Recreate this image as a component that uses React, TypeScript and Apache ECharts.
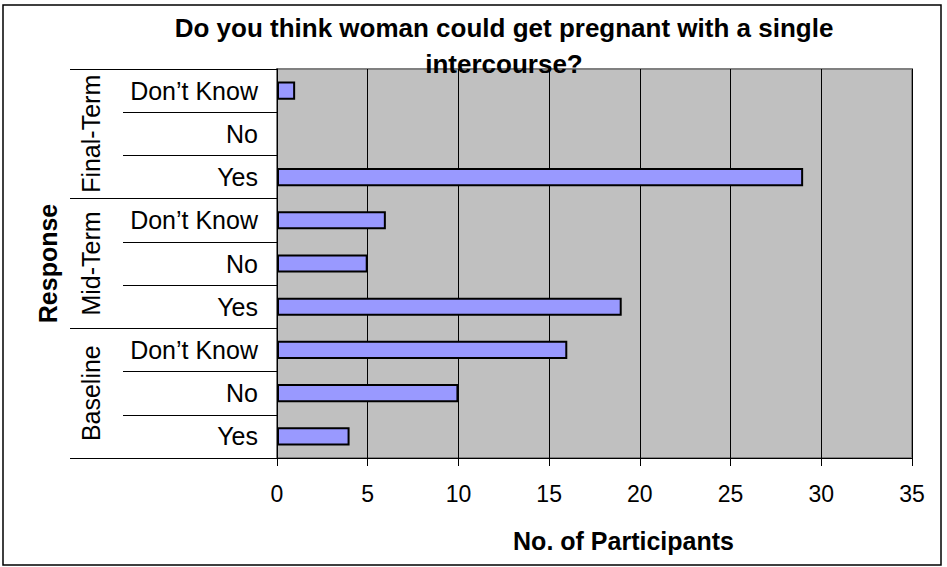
import React, { useEffect, useRef } from "react";
import * as echarts from "echarts";

const titleText = "Do you think woman could get pregnant with a single\nintercourse?";
const groups = ["Baseline", "Mid-Term", "Final-Term"];
const responses = ["Yes", "No", "Don’t Know"];
const baselineValues = [4, 10, 16];
const midTermValues = [19, 5, 6];
const finalTermValues = [29, 0, 1];
const xMin = 0;
const xMax = 35;
const xStep = 5;

const FONT = "'Liberation Sans', Arial, sans-serif";

export default function App() {
  const ref = useRef<HTMLDivElement>(null);
  useEffect(() => {
    const chart = echarts.init(ref.current!, null, { renderer: "svg" });
    const cats = groups.flatMap((g) => responses.map((r) => g + "|" + r));
    const values = [baselineValues, midTermValues, finalTermValues].flat();
    chart.setOption({
      animation: false,
      backgroundColor: "#ffffff",
      textStyle: { fontFamily: FONT },
      title: {
        text: titleText,
        left: 499,
        top: 5,
        textAlign: "center",
        textStyle: { fontFamily: FONT, fontSize: 26, fontWeight: "bold", color: "#000", lineHeight: 36 },
      },
      graphic: [
        {
          type: "rect",
          shape: { x: 3, y: 5, width: 938, height: 560 },
          style: { fill: "none", stroke: "#000", lineWidth: 1.5 },
          silent: true,
        },
      ],
      grid: {
        left: 277,
        right: 35,
        top: 69,
        bottom: 109,
        show: true,
        backgroundColor: "#C0C0C0",
        borderColor: "#808080",
        borderWidth: 2,
      },
      xAxis: {
        type: "value",
        min: xMin,
        max: xMax,
        interval: xStep,
        axisLine: { show: true, lineStyle: { color: "#000", width: 1 } },
        axisTick: { show: true, length: 8, lineStyle: { color: "#000" } },
        axisLabel: { fontSize: 23, color: "#000", margin: 24, fontFamily: FONT },
        splitLine: { show: true, lineStyle: { color: "#000", width: 1 } },
        name: "No. of Participants",
        nameLocation: "middle",
        nameGap: 70,
        nameTextStyle: {
          fontSize: 25,
          fontWeight: "bold",
          color: "#000",
          fontFamily: FONT,
          padding: [0, 0, 0, 58],
        },
      },
      yAxis: [
        {
          type: "category",
          data: cats,
          axisLine: { show: true, lineStyle: { color: "#000", width: 1 } },
          axisTick: { show: true, length: 154, interval: 0, lineStyle: { color: "#000" } },
          axisLabel: {
            interval: 0,
            fontSize: 25,
            color: "#000",
            margin: 19,
            fontFamily: FONT,
            formatter: (v: string) => v.split("|")[1],
          },
          splitLine: { show: false },
        },
        {
          type: "category",
          data: groups,
          position: "left",
          axisLine: { show: false },
          axisTick: { show: true, length: 207, interval: 0, lineStyle: { color: "#000" } },
          axisLabel: { interval: 0, rotate: 90, fontSize: 25, color: "#000", margin: 174, fontFamily: FONT },
          splitLine: { show: false },
          name: "Response",
          nameLocation: "middle",
          nameGap: 217,
          nameTextStyle: { fontSize: 25, fontWeight: "bold", color: "#000", fontFamily: FONT },
        },
      ],
      series: [
        {
          type: "bar",
          yAxisIndex: 0,
          barWidth: "42%",
          itemStyle: { color: "#9999FF", borderColor: "#000", borderWidth: 2 },
          data: values.map((v) => (v === 0 ? { value: 0, itemStyle: { borderWidth: 0 } } : v)),
        },
      ],
    });
    return () => chart.dispose();
  }, []);
  return (
    <div
      ref={ref}
      style={{ position: "fixed", left: 0, top: 0, width: 947, height: 567, background: "#fff" }}
    />
  );
}
